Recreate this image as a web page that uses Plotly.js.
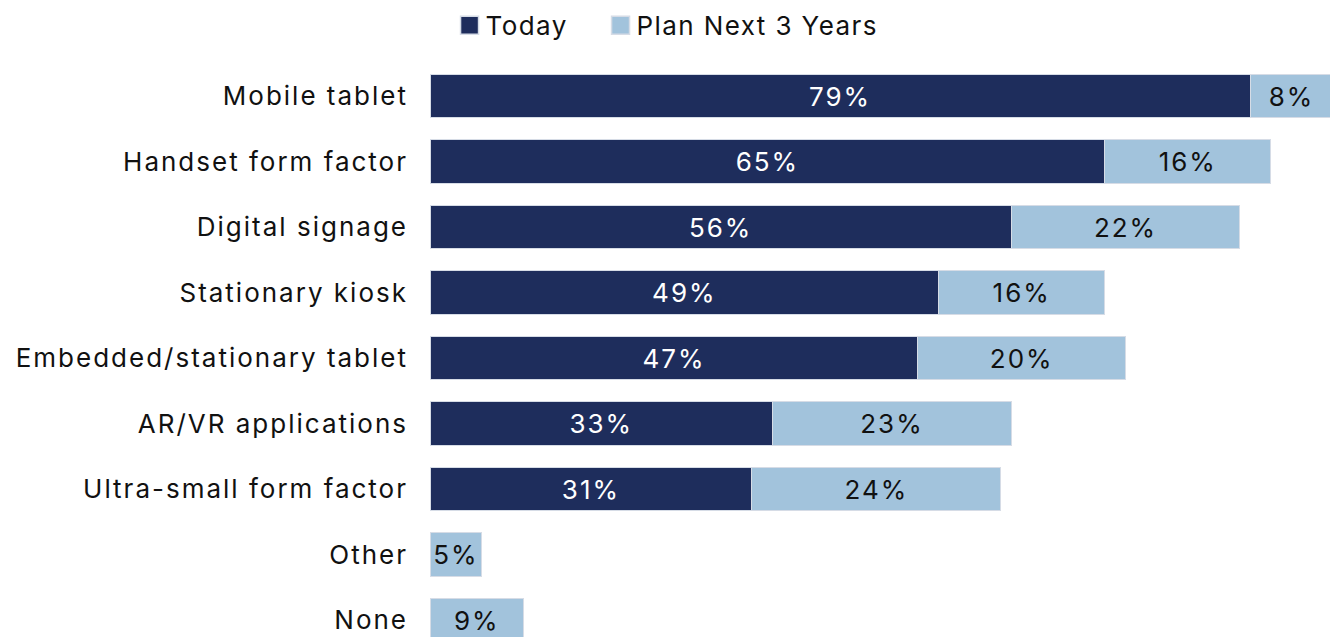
<!DOCTYPE html>
<html>
<head>
<meta charset="utf-8">
<script src="https://cdn.plot.ly/plotly-3.0.1.min.js"></script>
<style>
html,body{margin:0;padding:0;background:#fff;}
#chart{width:1330px;height:637px;}
svg text{letter-spacing:2px;}
svg text.legendtext{letter-spacing:1.4px;}
.legendpoints path{translate:-6px 0;scale:1.5;transform-box:fill-box;transform-origin:center;}
#chart .legend, #chart .legend .scrollbox{clip-path:none !important;}
</style>
</head>
<body>
<div id="chart"></div>
<script>
const categories = ["Mobile tablet","Handset form factor","Digital signage","Stationary kiosk","Embedded/stationary tablet","AR/VR applications","Ultra-small form factor","Other","None"];
const today = [79, 65, 56, 49, 47, 33, 31, null, null];
const planNext3 = [8, 16, 22, 16, 20, 23, 24, 5, 9];
const seriesNames = ["Today", "Plan Next 3 Years"];

const FONT = "Inter, 'Noto Sans', sans-serif";
const fmt = v => v == null ? "" : v + "%";

const traces = [
  {
    type: "bar", orientation: "h", name: seriesNames[0],
    y: categories, x: today,
    marker: {color: "#1e2d5c", line: {color: "#d6dce6", width: 1}},
    text: today.map(fmt), textposition: "inside", insidetextanchor: "middle",
    textfont: {family: FONT, size: 26, color: "#ffffff"},
    hoverinfo: "none"
  },
  {
    type: "bar", orientation: "h", name: seriesNames[1],
    y: categories, x: planNext3,
    marker: {color: "#a2c3dc", line: {color: "#d6dce6", width: 1}},
    text: planNext3.map(fmt), textposition: "inside", insidetextanchor: "middle",
    textfont: {family: FONT, size: 26, color: "#111111"},
    hoverinfo: "none"
  }
];

const layout = {
  width: 1330, height: 637,
  barmode: "stack", bargap: 0.336,
  margin: {l: 430, r: 0, t: 55, b: 0, pad: 0},
  paper_bgcolor: "#ffffff", plot_bgcolor: "#ffffff",
  font: {family: FONT, size: 26, color: "#111111"},
  showlegend: true,
  legend: {orientation: "h", xref: "container", x: 0.335, xanchor: "left", yref: "container", y: 0.997, yanchor: "top",
           entrywidth: 106, entrywidthmode: "pixels", bgcolor: "rgba(0,0,0,0)",
           font: {family: FONT, size: 26, color: "#111111"}, traceorder: "normal"},
  xaxis: {range: [0, 86.7], showgrid: false, zeroline: false, showticklabels: false, showline: false, fixedrange: true},
  yaxis: {type: "category", range: [8.259, -0.626], autorange: false, showgrid: false, zeroline: false,
          showline: false, ticks: "", ticklabelstandoff: 21,
          tickfont: {family: FONT, size: 26, color: "#111111"}, fixedrange: true}
};

Plotly.newPlot("chart", traces, layout, {displayModeBar: false, staticPlot: true});
</script>
</body>
</html>
